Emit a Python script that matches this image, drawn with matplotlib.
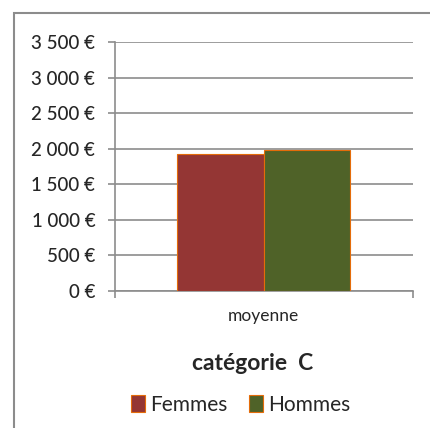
import matplotlib
matplotlib.use('Agg')
import matplotlib.pyplot as plt
from matplotlib.patches import Rectangle
from matplotlib.ticker import FuncFormatter

# donnees
categories = ['moyenne']
series = ['Femmes', 'Hommes']
valeurs = [1930, 1985]
couleurs = ['#943634', '#4F6228']
titre = 'catégorie  C'

plt.rcParams['font.family'] = ['Lato', 'DejaVu Sans']
plt.rcParams['text.color'] = '#262626'

fig = plt.figure(figsize=(4.30, 4.28), dpi=100)
ax = fig.add_axes([0.267, 0.320, 0.693, 0.582])

largeur = 0.29
for i, (nom, v, c) in enumerate(zip(series, valeurs, couleurs)):
	x = (i - 0.5) * largeur
	ax.bar(x, v, width=largeur, color=c, edgecolor='#E46C0A', linewidth=0.8,
		label=nom, zorder=3)

ax.set_xlim(-0.5, 0.5)
ax.set_ylim(0, 3500)
ax.set_yticks(range(0, 3501, 500))
ax.yaxis.set_major_formatter(FuncFormatter(lambda v, p: '{:,.0f} €'.format(v).replace(',', ' ')))
ax.grid(axis='y', color='#8c8c8c', linewidth=1.2, zorder=0)

ax.set_xticks([0])
ax.set_xticklabels(categories, fontsize=12.5)
ax.tick_params(axis='x', length=0, pad=12.5, labelcolor='#262626')
ax.set_xticks([-0.5, 0.5], minor=True)
ax.tick_params(axis='x', which='minor', length=5, color='#8c8c8c', width=1.2)
ax.tick_params(axis='y', length=5, color='#8c8c8c', width=1.2, pad=9, labelsize=13.5,
	labelcolor='#262626')
for t in ax.get_yticklabels():
	t.set_fontweight('medium')

for s in ['top', 'right']:
	ax.spines[s].set_visible(False)
for s in ['left', 'bottom']:
	ax.spines[s].set_color('#8c8c8c')
	ax.spines[s].set_linewidth(1.2)

fig.text(0.588, 1 - 363/428, titre, ha='center', va='center', fontsize=16.5, fontweight='bold')

fig.legend(loc='center', bbox_to_anchor=(0.56, 1 - 405/428), ncol=2, frameon=False,
	fontsize=15, handlelength=0.7, handleheight=0.85, handletextpad=0.25, columnspacing=1.0)

cadre = Rectangle((14/430, -0.1), 1.2, 1.1 - 13/428, transform=fig.transFigure,
	fill=False, edgecolor='#8c8c8c', linewidth=1.5)
fig.patches.append(cadre)

fig.savefig('out.png', dpi=100)
